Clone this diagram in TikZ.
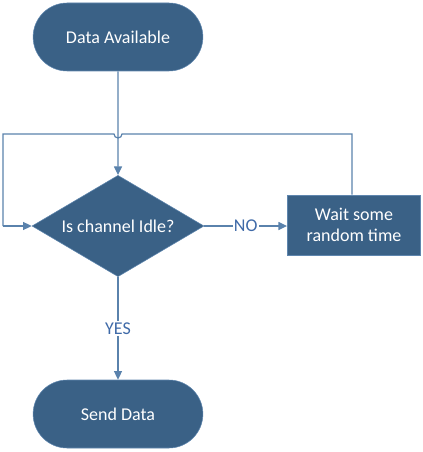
\documentclass[tikz,border=0pt]{standalone}
\usepackage{fontspec}
\setmainfont{Carlito}
\usetikzlibrary{positioning,arrows.meta,shapes.geometric,shapes.misc,calc}
\definecolor{shapeblue}{HTML}{3A6186}
\definecolor{edgeblue}{HTML}{5F86AE}
\definecolor{linkblue}{HTML}{5A82AC}
\definecolor{labelblue}{HTML}{3F6AA8}
\tikzset{
  flowarrow/.style={-{Triangle[length=6.5pt, width=6pt]}, linkblue, line width=0.9pt},
  flowline/.style={linkblue, line width=0.9pt},
  termnode/.style={draw=edgeblue, fill=shapeblue, text=white, rounded rectangle, minimum width=134pt, minimum height=51pt, align=center},
  decnode/.style={draw=edgeblue, fill=shapeblue, text=white, diamond, aspect=1.69, minimum width=129pt, minimum height=76pt, inner sep=0pt, align=center},
  waitbox/.style={draw=edgeblue, fill=shapeblue, text=white, rectangle, minimum width=100pt, minimum height=45pt, align=center},
  answer/.style={fill=white, text=labelblue, inner sep=1pt}
}

\begin{document}
\begin{tikzpicture}[x=0.75pt, y=-0.75pt, every node/.style={font=\fontsize{13.5}{16}\selectfont}]
  \useasboundingbox (0,0) rectangle (422,452);
  \node[termnode] (avail) at (118,37) {Data Available};
  \node[decnode] (idle) at (118,226) {Is channel Idle?};
  \node[waitbox] (wait) at (354,225) {Wait some\\random time};
  \node[termnode] (send) at (118,414) {Send Data};
  \coordinate (tr) at (352,134);
  \coordinate (tl) at (3,134);
  \coordinate (bl) at (3,226);
  % loop back from the wait box, hopping over the main line
  \draw[flowline] (wait.north -| tr) -- (tr) -- (122,134) arc[start angle=0, end angle=180, radius=4] -- (tl) -- (bl);
  \draw[flowarrow] (bl) -- (idle.west);
  \draw[flowarrow] (avail) -- (idle.north);
  \draw[flowarrow] (idle.east) -- node[answer] {NO} (wait.west |- idle.east);
  \draw[flowarrow] (idle.south) -- node[answer] {YES} (send.north);
\end{tikzpicture}
\end{document}
